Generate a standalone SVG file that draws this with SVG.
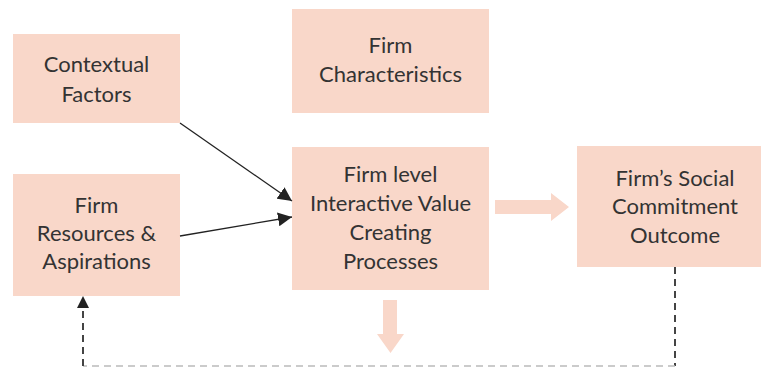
<svg xmlns="http://www.w3.org/2000/svg" width="761" height="367" viewBox="0 0 761 367">
  <defs>
    <style>
      .box { fill: #F9D7C9; }
      .lbl { font-family: Lato, "Open Sans", "Liberation Sans", sans-serif; font-size: 22px; fill: #333333; text-anchor: middle; }
      .link { stroke: #222222; stroke-width: 1.3; fill: none; }
      .dash { stroke: #444444; stroke-width: 2; fill: none; stroke-dasharray: 7 5; }
      .dash-light { stroke: #BBBBBB; stroke-width: 1.5; fill: none; stroke-dasharray: 7 5; }
      .flow { fill: #F9D7C9; }
    </style>
    <marker id="triBig" viewBox="0 0 14 14" refX="14" refY="7" markerWidth="14" markerHeight="14" markerUnits="userSpaceOnUse" orient="auto">
      <path d="M0,0 L14,7 L0,14 Z" fill="#222222"/>
    </marker>
  </defs>

  <g id="contextual-factors">
    <rect class="box" x="13" y="34" width="167" height="89"/>
    <text class="lbl" x="96.5" y="72">Contextual</text>
    <text class="lbl" x="96.5" y="102">Factors</text>
  </g>

  <g id="firm-resources">
    <rect class="box" x="13" y="174" width="167" height="122"/>
    <text class="lbl" x="96.5" y="213">Firm</text>
    <text class="lbl" x="96.5" y="241">Resources &amp;</text>
    <text class="lbl" x="96.5" y="269">Aspirations</text>
  </g>

  <g id="firm-characteristics">
    <rect class="box" x="292" y="9" width="197" height="104"/>
    <text class="lbl" x="390.5" y="53">Firm</text>
    <text class="lbl" x="390.5" y="82">Characteristics</text>
  </g>

  <g id="value-processes">
    <rect class="box" x="292" y="147" width="197" height="143"/>
    <text class="lbl" x="390.5" y="182">Firm level</text>
    <text class="lbl" x="390.5" y="211">Interactive Value</text>
    <text class="lbl" x="390.5" y="240">Creating</text>
    <text class="lbl" x="390.5" y="269">Processes</text>
  </g>

  <g id="social-outcome">
    <rect class="box" x="577" y="146" width="197" height="121"/>
    <text class="lbl" x="675" y="186">Firm’s Social</text>
    <text class="lbl" x="675" y="214">Commitment</text>
    <text class="lbl" x="675" y="243">Outcome</text>
  </g>

  <g id="connectors">
    <line class="link" x1="180" y1="123" x2="292" y2="201" marker-end="url(#triBig)"/>
    <line class="link" x1="180" y1="236" x2="292" y2="217" marker-end="url(#triBig)"/>
    <!-- block arrows -->
    <path class="flow" d="M495,200 H551 V193 L569,207 L551,221 V214 H495 Z"/>
    <path class="flow" d="M383,300 H397 V334 H404 L390.5,353 L377,334 H383 Z"/>
    <!-- feedback loop -->
    <line class="dash" x1="675" y1="267" x2="675" y2="366"/>
    <line class="dash-light" x1="675" y1="366" x2="83" y2="366"/>
    <line class="dash" x1="83" y1="366" x2="83" y2="308"/>
    <path d="M77,308 L83,296 L89,308 Z" fill="#222222"/>
  </g>
</svg>
